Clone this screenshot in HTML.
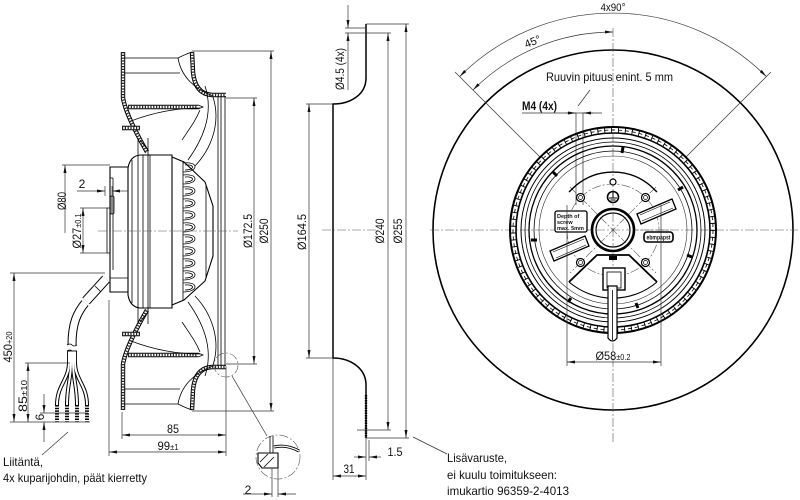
<!DOCTYPE html>
<html><head><meta charset="utf-8"><style>
html,body{margin:0;padding:0;background:#fff;}
svg{display:block;}
text{font-family:"Liberation Sans",sans-serif;fill:#111;}
.o{fill:none;stroke:#000;stroke-width:1.1;}
.t{fill:none;stroke:#000;stroke-width:0.8;}
.d{fill:none;stroke:#333;stroke-width:0.7;}
.c{fill:none;stroke:#555;stroke-width:0.6;stroke-dasharray:9 2 2 2;}
.h1{fill:none;stroke:#000;stroke-width:4.4;stroke-linejoin:round;}
.h2{fill:none;stroke:#fff;stroke-width:2.4;stroke-linejoin:round;}
.h3{fill:none;stroke:#222;stroke-width:2.4;stroke-dasharray:1.2 1.6;}
</style></head><body>
<svg width="800" height="500" viewBox="0 0 800 500" xmlns="http://www.w3.org/2000/svg" font-size="12">
<defs>
<marker id="a" viewBox="0 0 8 3" refX="8" refY="1.5" markerWidth="8" markerHeight="3" orient="auto-start-reverse" markerUnits="userSpaceOnUse"><path d="M0,0L8,1.5L0,3z" fill="#111"/></marker>
</defs>
<rect width="800" height="500" fill="#fff"/>

<!-- ============ LEFT: FAN SIDE VIEW ============ -->
<g id="ftop">
  <path class="h1" d="M123,52 L123,98 C125,110 132,126 147,152"/>
  <path class="h2" d="M123,52 L123,98 C125,110 132,126 147,152"/>
  <path class="h3" d="M123,52 L123,98 C125,110 132,126 147,152"/>
  <path class="h1" d="M192,52 L193,72 Q195,94 212,95 L226,95"/>
  <path class="h2" d="M192,52 L193,72 Q195,94 212,95 L226,95"/>
  <path class="h3" d="M192,52 L193,72 Q195,94 212,95 L226,95"/>
  <path class="h1" d="M128,107 L198,107"/>
  <path class="h2" d="M128,107 L198,107"/>
  <path class="h3" d="M128,107 L198,107"/>
  <path d="M198,105 L203,107 L198,109" class="t"/>
  <path class="h1" d="M122,128 L140,128"/>
  <path class="h2" d="M122,128 L140,128"/>
  <path class="h3" d="M122,128 L140,128"/>
  <path class="t" d="M124,58 L178,58 Q186,54 192,52"/>
  <path class="t" d="M124,73 L180,73"/>
  <path class="t" d="M178,58 C181,76 194,89 213,96"/>
  <path class="t" d="M131,121 Q165,108 200,108"/>
  <path class="t" d="M205,86 C213,110 206,135 188,160"/>
  <path class="t" d="M213,97 C221,122 212,148 195,166"/>
  <path class="t" d="M200,110 C196,120 190,128 182,140"/>
  <path class="t" d="M138,138 L138,155 M148,138 L148,155"/>
  <path class="t" d="M140,140 L148,150"/>
</g>
<use href="#ftop" transform="matrix(1 0 0 -1 0 462)"/>

<path class="t" d="M218,96 V366 M221,96 V366 M225,96 V366"/>

<!-- motor left flange -->
<path class="o" d="M128,167 L110,167 L110,292 L128,292"/>
<path class="t" d="M110,278 H128 M113,178 V270 M110,178 H113"/>
<rect x="110" y="196" width="4" height="18" rx="1.5" fill="#888" stroke="#000" stroke-width="0.8"/>
<path class="t" d="M110,208 H107 V253 H110"/>
<!-- motor main body -->
<path class="o" d="M128,168 Q130,156 140,155 L172,155 L172,308 L140,308 Q130,307 128,295 Z"/>
<path class="t" d="M132,160 V303 M138,155 V308 M143,155 V308 M148,155 V308 M150,155 V308"/>
<!-- dome -->
<path class="o" d="M172,157 L184,162 L205,182 L213,206 L213,256 L205,281 L184,300 L172,305"/>
<path class="t" d="M183,162 V300 M206,186 V277"/>
<g class="t">
  <path d="M183,163 C199,161 199,172 183,172 M185,165 C195,164 195,170 185,170"/>
  <path d="M183,175 C199,173 199,184 183,184 M185,177 C195,176 195,182 185,182"/>
  <path d="M183,187 C199,185 199,196 183,196 M185,189 C195,188 195,194 185,194"/>
  <path d="M183,199 C199,197 199,208 183,208 M185,201 C195,200 195,206 185,206"/>
  <path d="M183,211 C199,209 199,220 183,220 M185,213 C195,212 195,218 185,218"/>
  <path d="M183,223 C199,221 199,232 183,232 M185,225 C195,224 195,230 185,230"/>
  <path d="M183,235 C199,233 199,244 183,244 M185,237 C195,236 195,242 185,242"/>
  <path d="M183,247 C199,245 199,256 183,256 M185,249 C195,248 195,254 185,254"/>
  <path d="M183,259 C199,257 199,268 183,268 M185,261 C195,260 195,266 185,266"/>
  <path d="M183,271 C199,269 199,280 183,280 M185,273 C195,272 195,278 185,278"/>
  <path d="M183,283 C199,281 199,292 183,292 M185,285 C195,284 195,290 185,290"/>
</g>
<path class="c" d="M98,231 H238"/>

<!-- cable -->
<line x1="106" y1="279" x2="86" y2="301" stroke="#000" stroke-width="10"/>
<line x1="106" y1="279" x2="86" y2="301" stroke="#fff" stroke-width="8"/>
<path d="M95,286 L101,292" class="t"/>
<path d="M85,303 C77,313 72,323 72,345" fill="none" stroke="#000" stroke-width="9"/>
<path d="M85,303 C77,313 72,323 72,345" fill="none" stroke="#fff" stroke-width="7"/>
<path class="t" d="M67,345 Q70,343 72,345 T77,345 M67,351 Q70,349 72,351 T77,351"/>
<rect x="67.5" y="351" width="9" height="12" fill="#fff" stroke="#000" stroke-width="0.9"/>
<g fill="none">
  <path d="M69,362 C69,380 57,385 57,405" stroke="#000" stroke-width="4"/>
  <path d="M71,362 C71,380 67,385 67,405" stroke="#000" stroke-width="4"/>
  <path d="M73,362 C73,380 77,385 77,405" stroke="#000" stroke-width="4"/>
  <path d="M75,362 C75,380 87,385 87,405" stroke="#000" stroke-width="4"/>
  <path d="M69,362 C69,380 57,385 57,405" stroke="#fff" stroke-width="2"/>
  <path d="M71,362 C71,380 67,385 67,405" stroke="#fff" stroke-width="2"/>
  <path d="M73,362 C73,380 77,385 77,405" stroke="#fff" stroke-width="2"/>
  <path d="M75,362 C75,380 87,385 87,405" stroke="#fff" stroke-width="2"/>
  <path d="M57,405V422 M67,405V422 M77,405V422 M87,405V422" stroke="#000" stroke-width="4" stroke-dasharray="1.5 1.2"/>
</g>

<!-- left dims -->
<path class="d" d="M10,273 H105 M10,422 H90 M25,363 H70 M40,413 H88"/>
<line class="d" x1="14" y1="273" x2="14" y2="422" marker-start="url(#a)" marker-end="url(#a)"/>
<line class="d" x1="28" y1="363" x2="28" y2="422" marker-start="url(#a)" marker-end="url(#a)"/>
<line class="d" x1="44" y1="394" x2="44" y2="413" marker-end="url(#a)"/>
<line class="d" x1="44" y1="442" x2="44" y2="422" marker-end="url(#a)"/>
<text transform="translate(12,347) rotate(-90)" text-anchor="middle" textLength="31" lengthAdjust="spacingAndGlyphs">450<tspan font-size="8">+20</tspan></text>
<text transform="translate(27,396) rotate(-90)" text-anchor="middle" textLength="32" lengthAdjust="spacingAndGlyphs">85<tspan font-size="8">±10</tspan></text>
<text transform="translate(44,417) rotate(-90)" text-anchor="middle">6</text>
<path class="d" d="M68,432 L42,455"/>
<text x="3" y="466" textLength="40" lengthAdjust="spacingAndGlyphs">Liitäntä,</text>
<text x="3" y="482" textLength="144" lengthAdjust="spacingAndGlyphs">4x kuparijohdin, päät kierretty</text>

<!-- Ø80, Ø27, 2 -->
<path class="d" d="M62,165 H110 M80,208 H107 M80,253 H107"/>
<line class="d" x1="65" y1="233" x2="65" y2="165" marker-end="url(#a)"/>
<line class="d" x1="83" y1="208" x2="83" y2="253" marker-start="url(#a)" marker-end="url(#a)"/>
<text transform="translate(66,201) rotate(-90)" text-anchor="middle" textLength="18" lengthAdjust="spacingAndGlyphs">Ø80</text>
<text transform="translate(81,231) rotate(-90)" text-anchor="middle" textLength="35" lengthAdjust="spacingAndGlyphs">Ø27<tspan font-size="8">±0.1</tspan></text>
<line class="d" x1="77" y1="191" x2="105" y2="191" marker-end="url(#a)"/>
<line class="d" x1="128" y1="191" x2="112" y2="191" marker-end="url(#a)"/>
<path class="d" d="M105,186 V196 M112,186 V196"/>
<text x="82" y="188" text-anchor="middle">2</text>

<!-- Ø172.5 / Ø250 -->
<path class="d" d="M226,98 H257 M226,364 H257 M192,51 H274 M192,411 H274"/>
<line class="d" x1="254" y1="98" x2="254" y2="364" marker-start="url(#a)" marker-end="url(#a)"/>
<line class="d" x1="271" y1="51" x2="271" y2="411" marker-start="url(#a)" marker-end="url(#a)"/>
<text transform="translate(252,231) rotate(-90)" text-anchor="middle" textLength="34" lengthAdjust="spacingAndGlyphs">Ø172.5</text>
<text transform="translate(268,231) rotate(-90)" text-anchor="middle" textLength="25" lengthAdjust="spacingAndGlyphs">Ø250</text>

<!-- bottom dims left -->
<path class="d" d="M109,300 V456 M122,412 V439 M226,366 V456"/>
<line class="d" x1="122" y1="435" x2="226" y2="435" marker-start="url(#a)" marker-end="url(#a)"/>
<line class="d" x1="109" y1="452" x2="226" y2="452" marker-start="url(#a)" marker-end="url(#a)"/>
<text x="173" y="433" text-anchor="middle" textLength="12" lengthAdjust="spacingAndGlyphs">85</text>
<text x="168" y="450" text-anchor="middle" textLength="21" lengthAdjust="spacingAndGlyphs">99<tspan font-size="8">±1</tspan></text>

<!-- detail circles -->
<circle class="c" cx="226" cy="365" r="12"/>
<path class="d" d="M232,376 L267,436"/>
<circle class="c" cx="278" cy="457" r="22"/>
<path class="t" d="M270,436 V453 M273,436 V453"/>
<path d="M274,447 Q286,444 299,451" fill="none" stroke="#000" stroke-width="3"/>
<path d="M274,447 Q286,444 299,451" fill="none" stroke="#fff" stroke-width="1.2"/>
<path class="o" d="M258,453 H278 V468 H262 L258,463 Z"/>
<path class="t" d="M260,462 L268,454 M264,467 L274,457"/>
<path class="d" d="M272,468 V497 M278,468 V497"/>
<line class="d" x1="243" y1="494" x2="272" y2="494" marker-end="url(#a)"/>
<line class="d" x1="296" y1="494" x2="278" y2="494" marker-end="url(#a)"/>
<text x="248" y="494" text-anchor="middle">2</text>

<!-- ============ MIDDLE: INLET CONE ============ -->
<path class="o" style="stroke-width:1.5" d="M366,24 L366,78 C366,95 350,104 333,104 L333,358 C350,358 366,368 366,385 L366,438"/>
<path d="M366,395 V438" stroke="#000" stroke-width="2.4" stroke-dasharray="1.5 1"/>
<path class="d" d="M306,104 H333 M306,358 H333 M357,33 H391 M357,430 H391 M366,24 H409 M366,438 H409 M345,28 H366 M345,33 H357"/>
<line class="d" x1="309" y1="104" x2="309" y2="358" marker-start="url(#a)" marker-end="url(#a)"/>
<line class="d" x1="388" y1="33" x2="388" y2="430" marker-start="url(#a)" marker-end="url(#a)"/>
<line class="d" x1="406" y1="24" x2="406" y2="438" marker-start="url(#a)" marker-end="url(#a)"/>
<line class="d" x1="348" y1="5" x2="348" y2="28" marker-end="url(#a)"/>
<line class="d" x1="348" y1="90" x2="348" y2="33" marker-end="url(#a)"/>
<text transform="translate(306,232) rotate(-90)" text-anchor="middle" textLength="36" lengthAdjust="spacingAndGlyphs">Ø164.5</text>
<text transform="translate(384,231) rotate(-90)" text-anchor="middle" textLength="25" lengthAdjust="spacingAndGlyphs">Ø240</text>
<text transform="translate(402,231) rotate(-90)" text-anchor="middle" textLength="25" lengthAdjust="spacingAndGlyphs">Ø255</text>
<text transform="translate(344,69) rotate(-90)" text-anchor="middle" textLength="42" lengthAdjust="spacingAndGlyphs">Ø4.5 (4x)</text>
<path class="c" d="M322,230 H378"/>
<path class="d" d="M333,358 V480 M366,438 V480 M369,440 V461"/>
<line class="d" x1="354" y1="457" x2="366" y2="457" marker-end="url(#a)"/>
<line class="d" x1="381" y1="457" x2="369" y2="457" marker-end="url(#a)"/>
<text x="395" y="456" text-anchor="middle" textLength="15" lengthAdjust="spacingAndGlyphs">1.5</text>
<line class="d" x1="333" y1="476" x2="366" y2="476" marker-start="url(#a)" marker-end="url(#a)"/>
<text x="349" y="473" text-anchor="middle" textLength="11" lengthAdjust="spacingAndGlyphs">31</text>
<path class="d" d="M413,437 L447,454"/>
<text x="447" y="462" textLength="60" lengthAdjust="spacingAndGlyphs">Lisävaruste,</text>
<text x="447" y="479" textLength="110" lengthAdjust="spacingAndGlyphs">ei kuulu toimitukseen:</text>
<text x="447" y="495" textLength="122" lengthAdjust="spacingAndGlyphs">imukartio 96359-2-4013</text>

<!-- ============ RIGHT: FRONT VIEW ============ -->
<circle cx="613" cy="230" r="180" fill="none" stroke="#000" stroke-width="1.6"/>
<path class="c" d="M613,28 V442 M430,230 H798"/>
<path class="d" d="M459.6,76.6 A217,217 0 0 1 766.4,76.6" marker-start="url(#a)" marker-end="url(#a)"/>
<path class="d" d="M473,90 A198,198 0 0 1 613,32" marker-start="url(#a)" marker-end="url(#a)"/>
<path class="d" d="M455,72 L540,157 M771,72 L686,157"/>
<text x="613" y="11" text-anchor="middle" font-size="11" textLength="25" lengthAdjust="spacingAndGlyphs">4x90°</text>
<text transform="translate(534,45) rotate(-22)" text-anchor="middle" font-size="11">45°</text>
<text x="546" y="81" textLength="127" lengthAdjust="spacingAndGlyphs">Ruuvin pituus enint. 5 mm</text>
<path class="d" d="M590,90 L578,106"/>
<text x="522" y="110" font-weight="bold" textLength="35" lengthAdjust="spacingAndGlyphs">M4 (4x)</text>
<path class="d" d="M522,113 H602"/>
<line class="d" x1="566" y1="113" x2="576" y2="113" marker-end="url(#a)"/>
<line class="d" x1="593" y1="113" x2="583" y2="113" marker-end="url(#a)"/>
<path class="d" d="M576,113 V205 M583,113 V205"/>

<!-- hub rings -->
<circle cx="613" cy="230" r="103" fill="none" stroke="#000" stroke-width="2"/>
<circle cx="613" cy="230" r="97" fill="none" stroke="#000" stroke-width="1.6"/>
<circle cx="613" cy="230" r="100" fill="none" stroke="#000" stroke-width="5" stroke-dasharray="0.9 6"/>
<circle cx="613" cy="230" r="100" fill="none" stroke="#000" stroke-width="0.8" stroke-dasharray="4 2.9"/>
<circle cx="613" cy="230" r="92" fill="none" stroke="#000" stroke-width="1"/>
<circle cx="613" cy="230" r="88" fill="none" stroke="#000" stroke-width="0.8"/>
<circle cx="613" cy="230" r="84" fill="none" stroke="#000" stroke-width="1.3"/>
<circle cx="613" cy="230" r="79" fill="none" stroke="#000" stroke-width="0.8"/>
<circle cx="613" cy="230" r="74" fill="none" stroke="#333" stroke-width="0.6"/>
<g stroke="#000" stroke-width="3">
  <path d="M553,172 L557,176 M531,240 L537,240 M568,302 L571,298 M638,308 L636,303 M692,257 L687,255 M683,187 L678,190 M623,147 L622,153"/>
</g>
<circle class="c" cx="613" cy="230" r="46"/>
<path class="c" d="M570,187 L656,273 M656,187 L570,273 M555,230 H671"/>
<path class="o" style="stroke-width:1.4" d="M575.7,185.6 A58,58 0 0 1 650.3,185.6 M575.7,185.6 L569,192 M650.3,185.6 L657,192"/>
<path class="o" style="stroke-width:1.8" d="M569,282 L597,255 H629 L657,282"/>
<path class="o" d="M569,282 A68,68 0 0 0 657,282"/>
<rect x="609" y="256" width="8" height="4" fill="#000"/>
<g fill="#fff" stroke="#000" stroke-width="1.2">
  <circle cx="580.5" cy="197.5" r="4"/><circle cx="645.5" cy="197.5" r="4"/>
  <circle cx="580.5" cy="262.5" r="4"/><circle cx="645.5" cy="262.5" r="4"/>
  <circle cx="613" cy="182" r="3"/>
</g>
<g fill="none" stroke="#000" stroke-width="0.7">
  <circle cx="580.5" cy="197.5" r="2"/><circle cx="645.5" cy="197.5" r="2"/>
  <circle cx="580.5" cy="262.5" r="2"/><circle cx="645.5" cy="262.5" r="2"/>
</g>
<circle cx="613" cy="197" r="5.5" fill="#fff" stroke="#000" stroke-width="1.6"/>
<path d="M613,192 V198 M609,198 H617 M610.5,200 H615.5" stroke="#000" stroke-width="1"/>
<circle cx="613" cy="230" r="21" fill="#fff" stroke="#000" stroke-width="2.6"/>
<circle cx="613" cy="230" r="17" fill="none" stroke="#000" stroke-width="1.2"/>
<path class="c" d="M600,217 L626,243 M626,217 L600,243 M596,230 H630 M613,213 V247"/>
<g fill="#fff" stroke="#000" stroke-width="1.3">
  <path d="M637,214 L672,199 L676,209 L641,224 Z"/>
  <path d="M589,246 L554,261 L550,251 L585,236 Z"/>
</g>
<g fill="none" stroke="#000" stroke-width="0.6">
  <path d="M640,215 L670,202 M642,221 L673,208"/>
  <path d="M586,245 L556,258 M584,239 L553,252"/>
</g>
<rect x="555" y="211" width="32" height="21" rx="2" fill="#fff" stroke="#000" stroke-width="1.3"/>
<text x="557" y="218" font-size="5.5" font-weight="bold">Depth of</text>
<text x="557" y="224" font-size="5.5" font-weight="bold">screw</text>
<text x="557" y="230" font-size="5.5" font-weight="bold">max. 5mm</text>
<rect x="644" y="232" width="29" height="10" rx="3" fill="#fff" stroke="#000" stroke-width="1.6"/>
<text x="658.5" y="239.5" font-size="6" font-weight="bold" text-anchor="middle" textLength="24" lengthAdjust="spacingAndGlyphs">ebmpapst</text>
<rect x="603" y="268" width="22" height="22" fill="#fff" stroke="#000" stroke-width="1.4"/>
<rect x="607" y="272" width="14" height="16" fill="none" stroke="#000" stroke-width="0.8"/>
<path d="M608,286 V338 Q612.5,344 617,338 V286 Z" fill="#fff" stroke="#000" stroke-width="1.2"/>
<path class="t" d="M612.5,290 V340"/>

<!-- Ø58 -->
<path class="d" d="M567,205 V366 M661,205 V366"/>
<line class="d" x1="567" y1="362" x2="661" y2="362" marker-start="url(#a)" marker-end="url(#a)"/>
<text x="613" y="360" text-anchor="middle" textLength="35" lengthAdjust="spacingAndGlyphs">Ø58<tspan font-size="8">±0.2</tspan></text>
</svg>
</body></html>
